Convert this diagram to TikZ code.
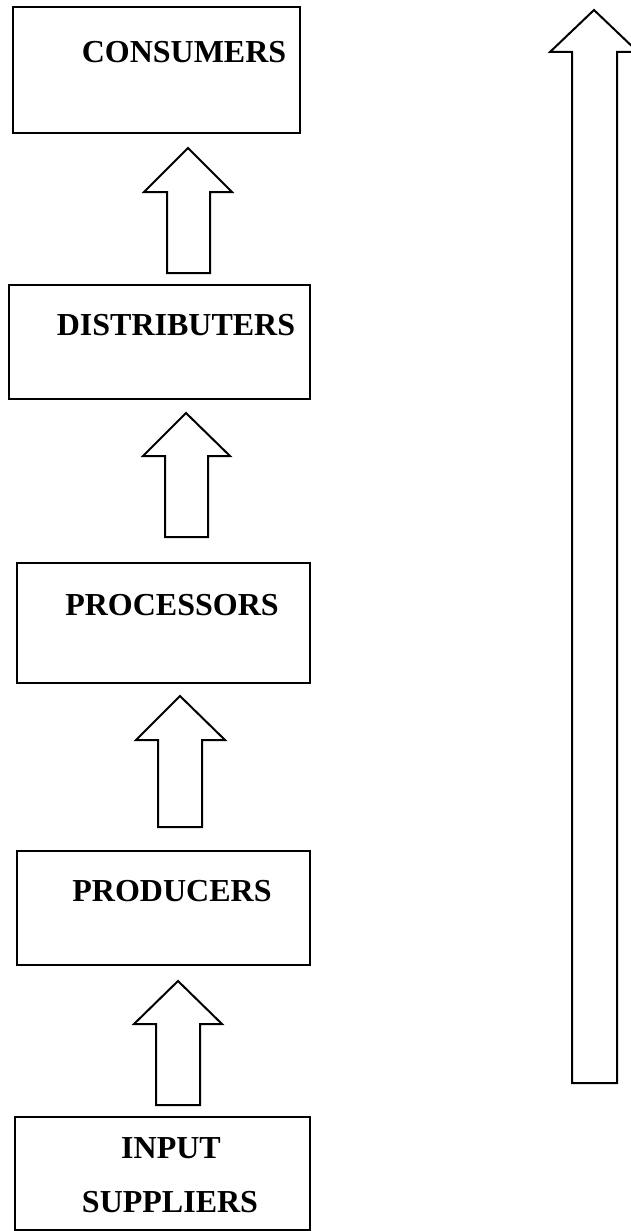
\documentclass[tikz,border=0pt]{standalone}
\usepackage{fontspec}
\setmainfont{Liberation Serif}
\begin{document}
\begin{tikzpicture}[x=1pt,y=-1pt,
  box/.style={draw=black,line width=2pt,rectangle,inner sep=0pt},
  lbl/.style={font=\fontsize{32}{38}\selectfont\bfseries,anchor=base,inner sep=0pt},
  blk/.style={draw=black,line width=2pt,fill=white,line join=miter}]
\useasboundingbox (0,0) rectangle (631,1231);
% boxes
\node[box,minimum width=287pt,minimum height=126pt] (cons) at (156.5,70) {};
\node[box,minimum width=301pt,minimum height=114pt] (dist) at (159.5,342) {};
\node[box,minimum width=293pt,minimum height=120pt] (proc) at (163.5,623) {};
\node[box,minimum width=293pt,minimum height=114pt] (prod) at (163.5,908) {};
\node[box,minimum width=295pt,minimum height=113pt] (inp) at (162.5,1173.5) {};
% labels
\node[lbl] (tcons) at (184,63) {CONSUMERS};
\node[lbl] (tdist) at (176,335) {DISTRIBUTERS};
\node[lbl] (tproc) at (172,615) {PROCESSORS};
\node[lbl] (tprod) at (172,901) {PRODUCERS};
\node[lbl] (tinp1) at (171,1158) {INPUT};
\node[lbl] (tinp2) at (170,1212) {SUPPLIERS};
% block arrows
\draw[blk] (167,273) -- (167,192) -- (144,192) -- (188,148) -- (232,192) -- (210,192) -- (210,273) -- cycle;
\draw[blk] (165,537) -- (165,456) -- (143,456) -- (186,413) -- (230,456) -- (208,456) -- (208,537) -- cycle;
\draw[blk] (158,827) -- (158,740) -- (136,740) -- (180,696) -- (225,740) -- (202,740) -- (202,827) -- cycle;
\draw[blk] (156,1105) -- (156,1024) -- (134,1024) -- (178,981) -- (222,1024) -- (200,1024) -- (200,1105) -- cycle;
% long arrow
\draw[blk] (572,1083) -- (572,52) -- (550,52) -- (594,10) -- (638,52) -- (617,52) -- (617,1083) -- cycle;
\end{tikzpicture}
\end{document}
